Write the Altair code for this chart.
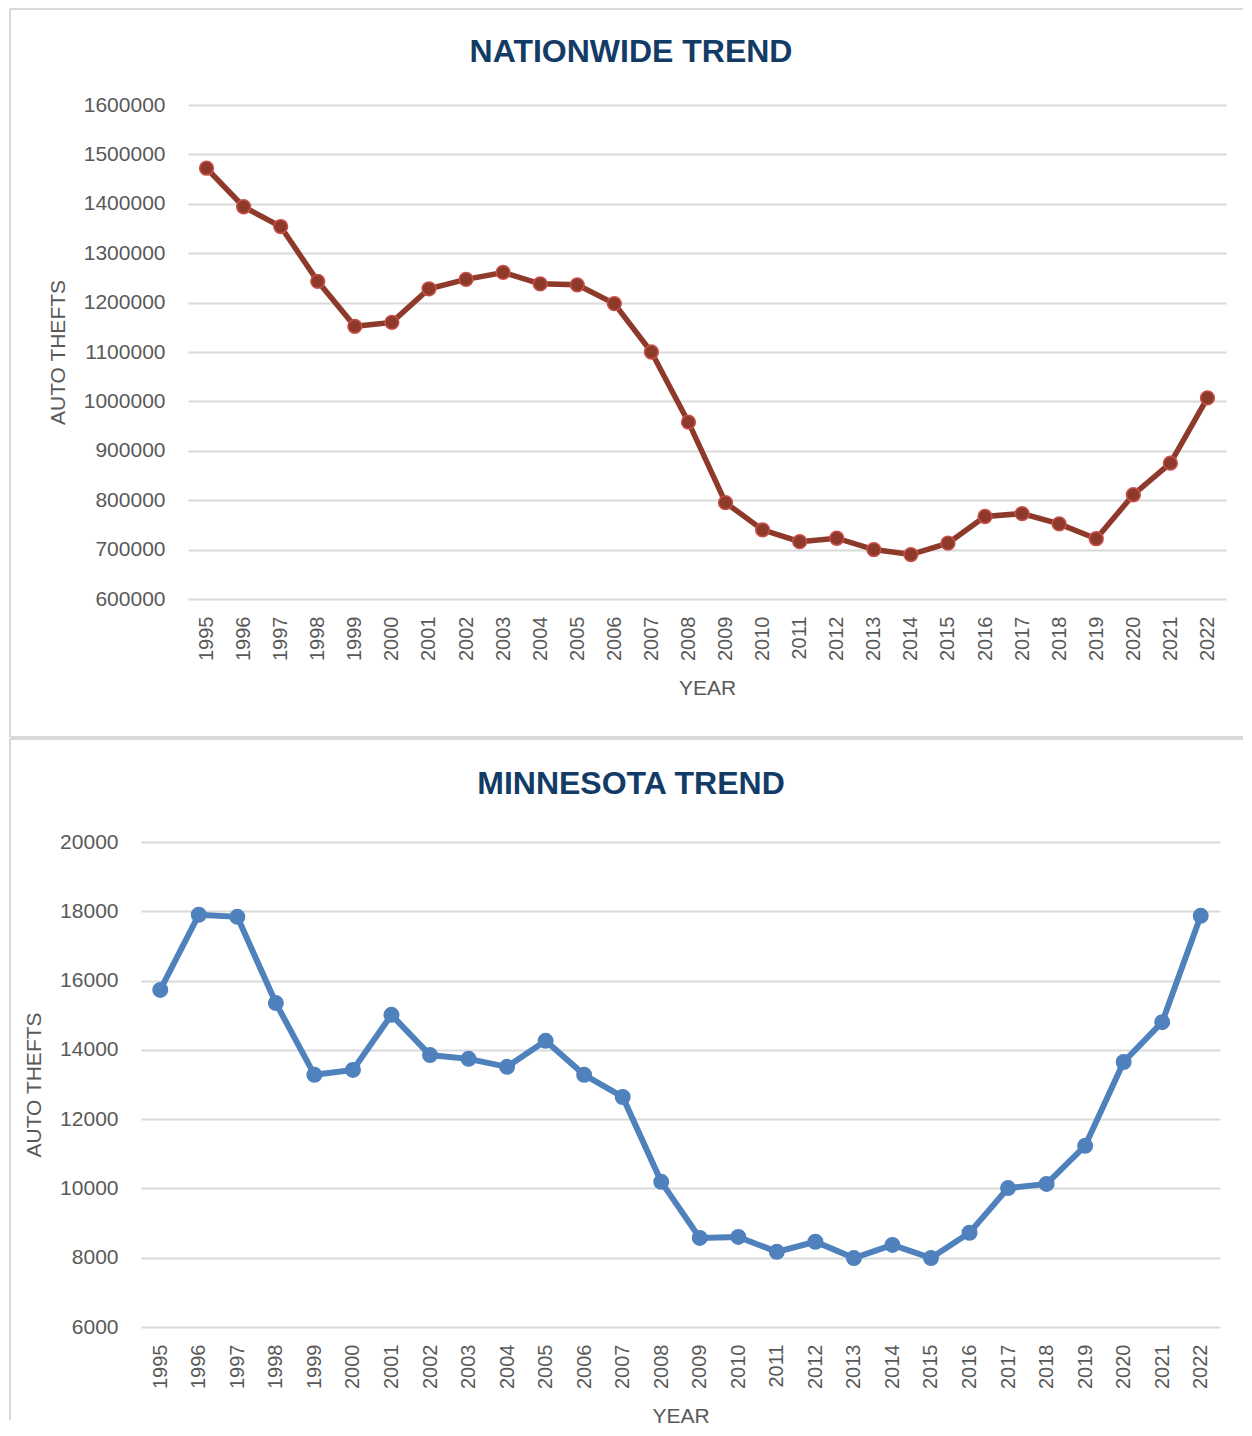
import altair as alt
import pandas as pd

years = ["1995", "1996", "1997", "1998", "1999", "2000", "2001", "2002", "2003",
         "2004", "2005", "2006", "2007", "2008", "2009", "2010", "2011", "2012",
         "2013", "2014", "2015", "2016", "2017", "2018", "2019", "2020", "2021", "2022"]

nationwide = [1472000, 1394000, 1354000, 1243000, 1152000, 1160000, 1228000, 1247000,
              1261000, 1238000, 1236000, 1198000, 1100000, 958000, 795000, 740000,
              716000, 723000, 700000, 690000, 713000, 767000, 773000, 752000, 722000,
              811000, 875000, 1007000]

minnesota = [15730, 17900, 17840, 15350, 13280, 13420, 15010, 13850, 13740, 13510,
             14260, 13280, 12640, 10190, 8570, 8600, 8170, 8460, 7990, 8370, 7990,
             8720, 10010, 10130, 11230, 13650, 14800, 17870]

nation_ticks = [600000, 700000, 800000, 900000, 1000000, 1100000, 1200000,
                1300000, 1400000, 1500000, 1600000]
mn_ticks = [6000, 8000, 10000, 12000, 14000, 16000, 18000, 20000]

FONT = "Liberation Sans"
GRAY = "#595959"
GRID = "#D9D9D9"
BORDER = "#D9D9D9"
TITLE_COLOR = "#123B66"


def panel(values, ticks, title, title_x, title_y, color, stroke, width, height,
          left, top, bottom, right, y_title_pad, line_w, pt_size, bottom_rule=False):
    df = pd.DataFrame({"year": years, "value": values})
    one = pd.DataFrame({"t": [title]})
    base = alt.Chart(df)
    x = alt.X("year:O", scale=alt.Scale(padding=0.5),
              axis=alt.Axis(title="YEAR", labelAngle=270, labelFontSize=20, labelFont=FONT,
                            labelColor=GRAY, labelPadding=17, ticks=False, tickSize=0,
                            domain=False, grid=False, titleFont=FONT, titleFontSize=21,
                            titleFontWeight="normal", titleColor=GRAY, titlePadding=17))
    y = alt.Y("value:Q", scale=alt.Scale(domain=[ticks[0], ticks[-1]], nice=False, zero=False),
              axis=alt.Axis(title="AUTO THEFTS", values=ticks, format="d", labelFontSize=21,
                            labelFont=FONT, labelColor=GRAY, labelPadding=23, ticks=False,
                            tickSize=0, domain=False, gridColor=GRID, gridWidth=2,
                            titleFont=FONT, titleFontSize=21, titleFontWeight="normal",
                            titleColor=GRAY, titlePadding=y_title_pad))
    line = base.mark_line(color=color, strokeWidth=line_w).encode(x=x, y=y)
    pts = base.mark_point(filled=True, fill=color, stroke=stroke, strokeWidth=1.5,
                          size=pt_size, opacity=1).encode(x="year:O", y="value:Q")
    frame_v = alt.Chart(one).mark_rule(color=BORDER, strokeWidth=2).encode(
        x=alt.value(left), y=alt.value(top), y2=alt.value(bottom))
    frame_t = alt.Chart(one).mark_rule(color=BORDER, strokeWidth=2).encode(
        x=alt.value(left), x2=alt.value(right), y=alt.value(top))
    ttl = alt.Chart(one).mark_text(font=FONT, fontSize=32, fontWeight="bold",
                                   color=TITLE_COLOR, align="center",
                                   baseline="alphabetic").encode(
        text="t:N", x=alt.value(title_x), y=alt.value(title_y))
    layers = [frame_v, frame_t]
    if bottom_rule:
        layers.append(alt.Chart(one).mark_rule(color=BORDER, strokeWidth=2).encode(
            x=alt.value(left), x2=alt.value(right), y=alt.value(bottom)))
    layers += [ttl, line, pts]
    return alt.layer(*layers).properties(width=width, height=height)


def spacer():
    return alt.Chart(pd.DataFrame({"a": [0]})).mark_rule(opacity=0).encode(
        x=alt.value(0), y=alt.value(0), y2=alt.value(1)).properties(width=1, height=1)


top = panel(nationwide, nation_ticks, "NATIONWIDE TREND", 443, -43, "#8E3A2B", "#C8504B",
            1038, 494, left=-178, top=-96, bottom=632, right=1055, y_title_pad=15,
            line_w=5.5, pt_size=190, bottom_rule=True)

bottom = panel(minnesota, mn_ticks, "MINNESOTA TREND", 490, -48, "#4F81BD", "#4F81BD",
               1079, 485, left=-131, top=-103, bottom=578, right=1102, y_title_pad=15,
               line_w=6, pt_size=210)

chart = alt.vconcat(alt.hconcat(spacer(), top, spacing=0),
                    alt.hconcat(spacer(), bottom, spacing=0),
                    spacing=0).properties(padding=0).configure_view(stroke=None)

chart.save("out.html", embed_options={"renderer": "svg", "actions": False})
